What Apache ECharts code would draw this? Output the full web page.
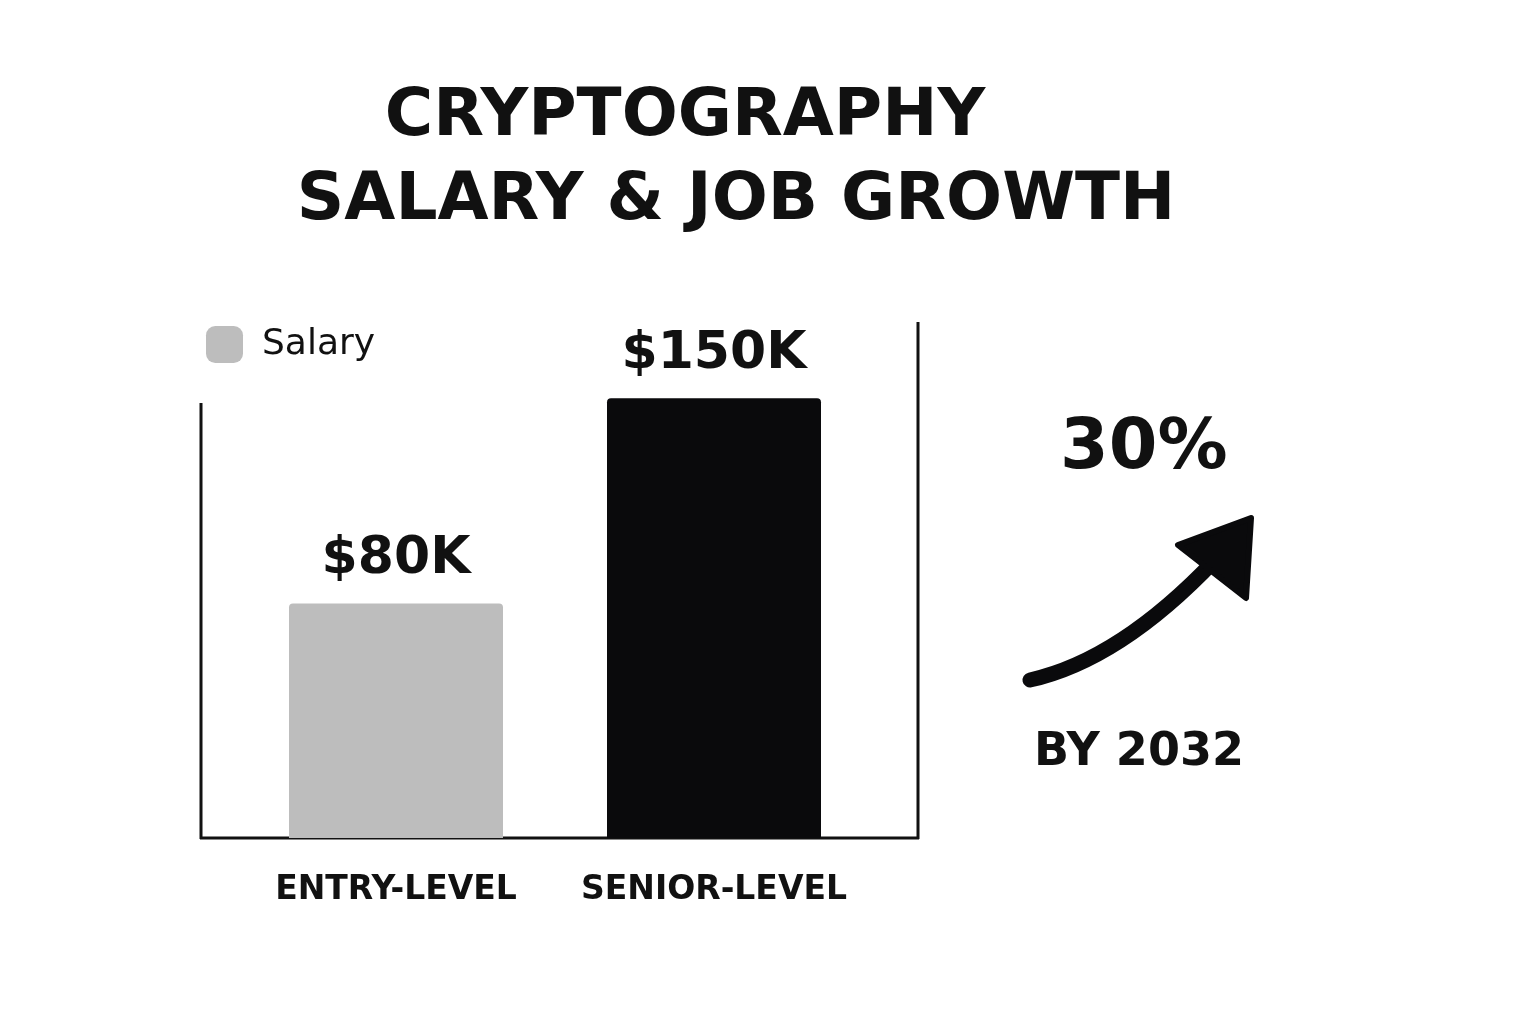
<!DOCTYPE html>
<html><head><meta charset="utf-8">
<script src="https://cdn.jsdelivr.net/npm/echarts@6/dist/echarts.min.js"></script>
<style>html,body{margin:0;background:#fff}#c{width:1536px;height:1024px}</style>
</head><body><div id="c"></div>
<script>
const categories = ['ENTRY-LEVEL', 'SENIOR-LEVEL'];
const salary = [80, 150];
const salaryLabels = ['$80K', '$150K'];
const growthText = '30%';
const growthYear = 'BY 2032';
const colors = ['#bdbdbd', '#0a0a0c'];
const F = '"DejaVu Sans", sans-serif';
const chart = echarts.init(document.getElementById('c'));
chart.setOption({
  backgroundColor: '#fff',
  animation: false,
  title: [
    {text: 'CRYPTOGRAPHY', left: 680, top: 80, textAlign: 'center',
     textStyle: {fontFamily: F, fontSize: 66, fontWeight: 'bold', color: '#111'}},
    {text: 'SALARY & JOB GROWTH', left: 731, top: 164, textAlign: 'center',
     textStyle: {fontFamily: F, fontSize: 66, fontWeight: 'bold', color: '#111'}}
  ],
  legend: {left: 201, top: 321, itemWidth: 37, itemHeight: 37, itemGap: 10,
    data: [{name: 'Salary', itemStyle: {color: '#bdbdbd', borderRadius: 4}}],
    textStyle: {fontFamily: F, fontSize: 36, fontWeight: 500, color: '#111', padding: [0, 0, 0, 14]}},
  grid: {left: 237, right: 1536 - 873, top: 322, bottom: 186},
  xAxis: {type: 'category', data: categories,
    axisLine: {show: false}, axisTick: {show: false},
    axisLabel: {interval: 0, fontFamily: F, fontSize: 33, fontWeight: 'bold', color: '#111', margin: 36}},
  yAxis: {type: 'value', min: 0, max: 176, show: false, splitLine: {show: false}},
  series: [{name: 'Salary', type: 'bar', barWidth: 214,
    data: salary.map((v, i) => ({value: v, itemStyle: {color: colors[i], borderRadius: [4, 4, 0, 0]},
      label: {show: true, position: 'top', distance: 18, formatter: salaryLabels[i],
        fontFamily: F, fontSize: 52, fontWeight: 'bold', color: '#111'}}))}],
  graphic: [
    {type: 'line', shape: {x1: 201, y1: 403, x2: 201, y2: 839}, style: {stroke: '#111', lineWidth: 3}},
    {type: 'line', shape: {x1: 918, y1: 322, x2: 918, y2: 839}, style: {stroke: '#111', lineWidth: 3}},
    {type: 'line', shape: {x1: 200, y1: 838, x2: 919, y2: 838}, style: {stroke: '#111', lineWidth: 3}},
    {type: 'text', left: 1060, top: 415, style: {text: growthText, font: 'bold 70px ' + F, fill: '#111'}},
    {type: 'text', left: 1034, top: 730, style: {text: growthYear, font: 'bold 46px ' + F, fill: '#111'}},
    {type: 'bezierCurve', shape: {x1: 1030, y1: 680, cpx1: 1120, cpy1: 660, x2: 1215, y2: 560},
     style: {stroke: '#0a0a0c', lineWidth: 15, lineCap: 'round', fill: null}},
    {type: 'polygon', shape: {points: [[1251, 518], [1178, 545], [1246, 598]]},
     style: {fill: '#0a0a0c', stroke: '#0a0a0c', lineWidth: 6, lineJoin: 'round'}}
  ]
});
</script></body></html>
